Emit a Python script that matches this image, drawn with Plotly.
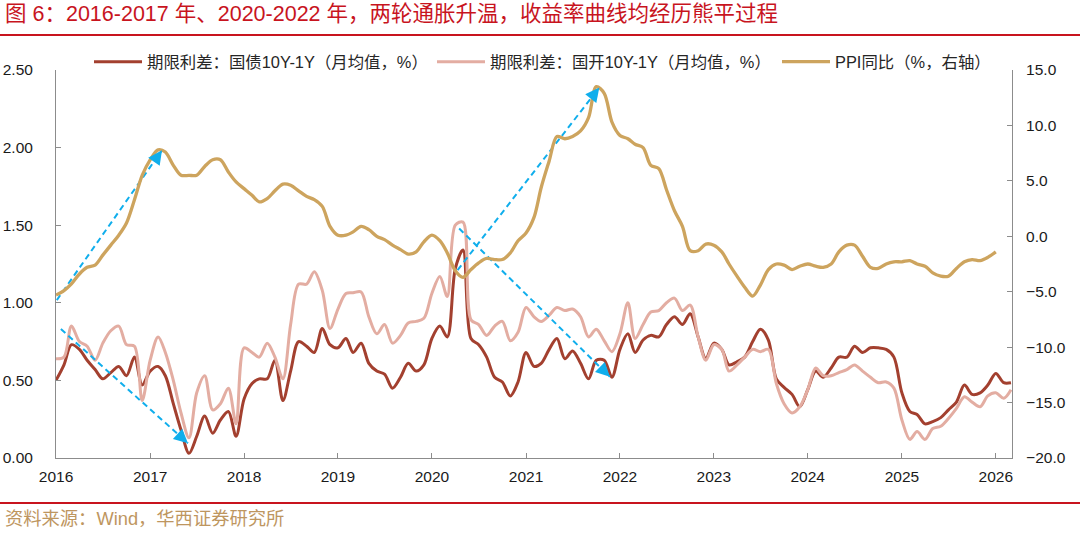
import pandas as pd
import plotly.graph_objects as go

# ---------------- data ----------------
months = pd.date_range("2016-01-01", periods=123, freq="MS")

cgb_spread = [  # 期限利差：国债10Y-1Y（月均值，%）
    0.50, 0.60, 0.73, 0.70, 0.63, 0.57, 0.51, 0.55, 0.59, 0.53, 0.65, 0.47,
    0.56, 0.59, 0.53, 0.35, 0.18, 0.03, 0.14, 0.27, 0.16, 0.245, 0.30, 0.14,
    0.38, 0.48, 0.51, 0.51, 0.63, 0.37, 0.56, 0.75, 0.72, 0.68, 0.835, 0.73,
    0.71, 0.77, 0.68, 0.74, 0.61, 0.56, 0.54, 0.45, 0.52, 0.61, 0.56, 0.60,
    0.77, 0.85, 0.78, 1.22, 1.34, 0.77, 0.73, 0.65, 0.52, 0.49, 0.40, 0.49,
    0.68, 0.59, 0.61, 0.70, 0.77, 0.64, 0.69, 0.61, 0.51, 0.63, 0.63, 0.52,
    0.70, 0.80, 0.68, 0.76, 0.79, 0.78, 0.86, 0.91, 0.86, 0.93, 0.78, 0.64,
    0.74, 0.70, 0.60, 0.62, 0.65, 0.75, 0.83, 0.76, 0.51, 0.455, 0.41, 0.33,
    0.44, 0.56, 0.52, 0.58, 0.65, 0.65, 0.72, 0.68, 0.71, 0.71, 0.70, 0.65,
    0.42, 0.30, 0.28, 0.22, 0.235, 0.26, 0.31, 0.36, 0.47, 0.41, 0.42, 0.47,
    0.545, 0.485, 0.485,
]

cdb_spread = [  # 期限利差：国开10Y-1Y（月均值，%）
    0.64, 0.65, 0.85, 0.75, 0.72, 0.63, 0.74, 0.82, 0.85, 0.73, 0.72, 0.37,
    0.63, 0.78, 0.68, 0.50, 0.29, 0.13, 0.42, 0.53, 0.31, 0.35, 0.45, 0.22,
    0.71, 0.68, 0.65, 0.74, 0.65, 0.51, 0.86, 1.12, 1.12, 1.20, 1.08, 0.835,
    0.96, 1.06, 1.065, 1.07, 0.91, 0.80, 0.86, 0.74, 0.79, 0.87, 0.88, 0.90,
    1.06, 1.17, 1.04, 1.50, 1.52, 0.89, 0.86, 0.79, 0.85, 0.88, 0.755, 0.81,
    0.97, 0.91, 0.88, 0.92, 0.97, 0.95, 0.96, 0.91, 0.78, 0.83, 0.755, 0.685,
    0.80, 1.00, 0.77, 0.86, 0.94, 0.95, 1.00, 1.03, 0.95, 0.985, 0.78, 0.63,
    0.73, 0.70, 0.56, 0.60, 0.65, 0.70, 0.685, 0.70, 0.48, 0.35, 0.29, 0.33,
    0.44, 0.58, 0.53, 0.53, 0.55, 0.57, 0.60, 0.56, 0.52, 0.485, 0.49, 0.45,
    0.245, 0.12, 0.17, 0.12, 0.19, 0.205, 0.255, 0.32, 0.395, 0.36, 0.33, 0.40,
    0.42, 0.385, 0.44,
]

ppi_yoy = [  # PPI同比（%，右轴）
    -5.3, -4.9, -4.3, -3.4, -2.8, -2.6, -1.7, -0.8, 0.1, 1.2, 3.3, 5.5,
    6.9, 7.8, 7.6, 6.4, 5.5, 5.5, 5.5, 6.3, 6.9, 6.9, 5.8, 4.9,
    4.3, 3.7, 3.1, 3.4, 4.1, 4.7, 4.6, 4.1, 3.6, 3.3, 2.7, 0.9,
    0.1, 0.1, 0.4, 0.9, 0.6, 0.0, -0.3, -0.8, -1.2, -1.6, -1.4, -0.5,
    0.1, -0.4, -1.5, -3.1, -3.7, -3.0, -2.4, -2.0, -2.1, -2.1, -1.5, -0.4,
    0.3, 1.7, 4.4, 6.8, 9.0, 8.8, 9.0, 9.5, 10.7, 13.5, 12.9, 10.3,
    9.1, 8.8, 8.3, 8.0, 6.4, 6.1, 4.2, 2.3, 0.9, -1.3, -1.3, -0.7,
    -0.8, -1.4, -2.5, -3.6, -4.6, -5.4, -4.4, -3.0, -2.5, -2.6, -3.0, -2.7,
    -2.5, -2.7, -2.8, -2.5, -1.4, -0.8, -0.8, -1.8, -2.8, -2.9, -2.5, -2.3,
    -2.3, -2.2, -2.5, -2.7, -3.3, -3.6, -3.6, -2.9, -2.3, -2.1, -2.2, -1.9,
    -1.4,
]
ppi_months = months[:len(ppi_yoy)]

series_names = [
    "期限利差：国债10Y-1Y（月均值，%）",
    "期限利差：国开10Y-1Y（月均值，%）",
    "PPI同比（%，右轴）",
]

# blue dashed arrows (left-axis units)
arrow_start_dates = ["2016-01-04", "2016-01-20", "2020-04-10", "2020-04-16"]
arrow_start_vals = [1.017, 0.831, 1.211, 1.479]
arrow_end_dates = ["2017-02-16", "2017-05-28", "2021-10-13", "2021-11-23"]
arrow_end_vals = [1.983, 0.095, 2.387, 0.523]

title_text = "图 6：2016-2017 年、2020-2022 年，两轮通胀升温，收益率曲线均经历熊平过程"
source_text = "资料来源：Wind，华西证券研究所"

# ---------------- styling ----------------
W, H = 1080, 533
L, R, T, B = 56, 68, 70, 75
PW, PH = W - L - R, H - T - B

def pxx(px):
    return (px - L) / PW

def pyy(py):
    return (H - B - py) / PH

C_CGB = "#A3402F"
C_CDB = "#E3ADA2"
C_PPI = "#CDA45E"
C_ARROW = "#10AEEC"
C_RED = "#C8141E"
C_SRC = "#BE965F"
AX = "#8C8C8C"
FONT = "Liberation Sans, Arial, Noto Sans CJK SC"
LW = 3.0

fig = go.Figure()
fig.add_trace(go.Scatter(x=months, y=cgb_spread, name=series_names[0], mode="lines", legend="legend",
                         line=dict(color=C_CGB, width=LW, shape="spline", smoothing=0.9)))
fig.add_trace(go.Scatter(x=months, y=cdb_spread, name=series_names[1], mode="lines", legend="legend2",
                         line=dict(color=C_CDB, width=LW, shape="spline", smoothing=0.9)))
fig.add_trace(go.Scatter(x=ppi_months, y=ppi_yoy, name=series_names[2], mode="lines", yaxis="y2",
                         legend="legend3",
                         line=dict(color=C_PPI, width=LW + 0.3, shape="spline", smoothing=0.9)))

annotations = []
for sd, sv, ed, ev in zip(arrow_start_dates, arrow_start_vals, arrow_end_dates, arrow_end_vals):
    s = pd.Timestamp(sd)
    e = pd.Timestamp(ed)
    fig.add_trace(go.Scatter(x=[s, e], y=[sv, ev], mode="lines", showlegend=False, hoverinfo="skip",
                             line=dict(color=C_ARROW, width=2, dash="6px,4px")))
    back_t = s + (e - s) * 0.94
    back_v = sv + (ev - sv) * 0.94
    annotations.append(dict(x=e, y=ev, ax=back_t, ay=back_v, xref="x", yref="y", axref="x", ayref="y",
                            text="", showarrow=True, arrowhead=2, arrowsize=1.4, arrowwidth=2,
                            arrowcolor=C_ARROW))

annotations.append(dict(text=title_text, xref="paper", yref="paper", x=pxx(3), y=pyy(14),
                        xanchor="left", yanchor="middle", showarrow=False,
                        font=dict(family=FONT, size=21.5, color=C_RED)))
annotations.append(dict(text=source_text, xref="paper", yref="paper", x=pxx(3), y=pyy(518),
                        xanchor="left", yanchor="middle", showarrow=False,
                        font=dict(family=FONT, size=18.3, color=C_SRC)))

shapes = [
    dict(type="line", xref="paper", yref="paper", x0=pxx(0), x1=pxx(W), y0=pyy(35), y1=pyy(35),
         line=dict(color=C_RED, width=2)),
    dict(type="line", xref="paper", yref="paper", x0=pxx(0), x1=pxx(W), y0=pyy(503), y1=pyy(503),
         line=dict(color=C_RED, width=2)),
]

leg_common = dict(orientation="h", y=pyy(62), xanchor="left", yanchor="middle", itemwidth=48,
                  font=dict(family=FONT, size=16.4, color="#262626"), bgcolor="rgba(0,0,0,0)")

fig.update_layout(
    width=W, height=H, autosize=False,
    margin=dict(l=L, r=R, t=T, b=B, autoexpand=False),
    paper_bgcolor="white", plot_bgcolor="white",
    font=dict(family=FONT, size=15, color="#1a1a1a"),
    showlegend=True,
    legend=dict(x=pxx(89), **leg_common),
    legend2=dict(x=pxx(432), **leg_common),
    legend3=dict(x=pxx(777), **leg_common),
    xaxis=dict(type="date", range=["2016-01-01", "2026-03-05"], dtick="M12", tick0="2016-01-01",
               tickformat="%Y", ticks="inside", ticklen=5, tickcolor=AX, showline=True, linecolor=AX,
               linewidth=1, showgrid=False, zeroline=False, ticklabelstandoff=4, automargin=False,
               tickfont=dict(family=FONT, size=15.5, color="#1a1a1a")),
    yaxis=dict(range=[0, 2.5], dtick=0.5, tickformat=".2f", ticks="inside", ticklen=5, tickcolor=AX,
               showline=True, linecolor=AX, linewidth=1, showgrid=False, zeroline=False,
               ticklabelstandoff=19, automargin=False,
               tickfont=dict(family=FONT, size=15.5, color="#1a1a1a")),
    yaxis2=dict(range=[-20, 15], dtick=5, tickformat=".1f", overlaying="y", side="right",
                ticks="inside", ticklen=5, tickcolor=AX, showline=True, linecolor=AX, linewidth=1,
                showgrid=False, zeroline=False, ticklabelstandoff=10, automargin=False,
                tickfont=dict(family=FONT, size=15.5, color="#1a1a1a")),
    annotations=annotations,
    shapes=shapes,
)

fig.write_html("out.html", config={"displayModeBar": False},
               post_script="document.body.style.margin='0px';document.body.style.padding='0px';")
